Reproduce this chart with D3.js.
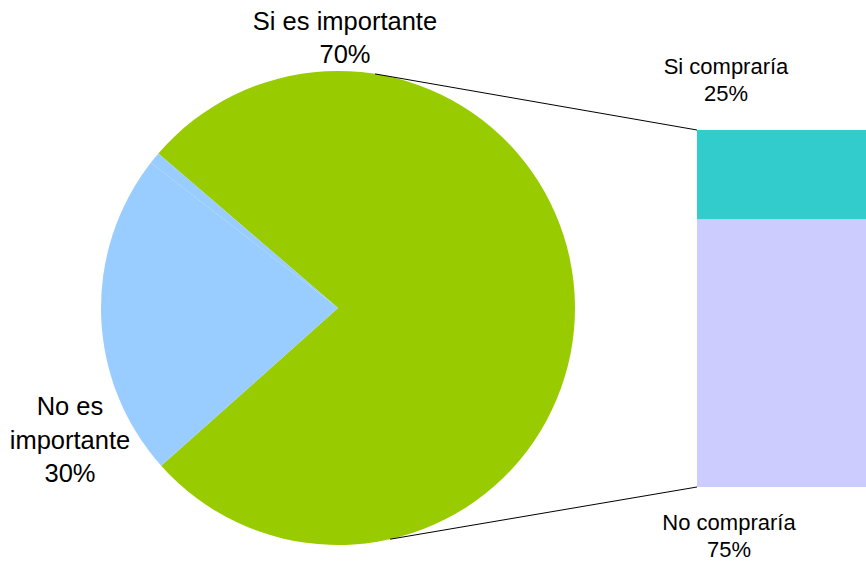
<!DOCTYPE html>
<html>
<head>
<meta charset="utf-8">
<script src="https://cdn.jsdelivr.net/npm/d3@7"></script>
<style>
  body { margin: 0; background: #fff; }
  svg { display: block; }
  text { font-family: "Liberation Sans", Arial, sans-serif; fill: #000; }
</style>
</head>
<body>
<svg id="chart" width="866" height="561"></svg>
<script>
// pie slices, in drawing order (clockwise from the upper-left edge of the green slice)
var pieNames = ["Si es importante", "No es importante", "No es importante (resto)"];
var pieShares = [77.1, 22.1, 0.8];          // angular share as drawn
var pieColors = ["#99CC00", "#99CCFF", "#99CCFF"];
var pieLabelLines = [["Si es importante", "70%"], ["No es", "importante", "30%"]];

// bar of the pie, stacked from the bottom
var barNames = ["No compraría", "Si compraría"];
var barValues = [75, 25];
var barColors = ["#CCCCFF", "#33CCCC"];
var barLabelLines = [["No compraría", "75%"], ["Si compraría", "25%"]];

var svg = d3.select("#chart");
var cx = 338, cy = 308, r = 237;
var deg = Math.PI / 180;

var start = -49.3 * deg;
var pie = d3.pie().sort(null).value(function (d) { return d })
    .startAngle(start).endAngle(start + 2 * Math.PI);
var arc = d3.arc().innerRadius(0).outerRadius(r);

var g = svg.append("g").attr("transform", "translate(" + cx + "," + cy + ")");
g.selectAll("path.slice")
    .data(pie(pieShares))
    .enter()
    .append("path")
    .attr("class", "slice")
    .attr("d", arc)
    .style("fill", function (d, i) { return pieColors[i] });

// bar
var y = d3.scaleLinear().domain([0, 100]).range([487, 130]);
var barX = 697, barW = 190;
var cum = 0;
var stacked = barValues.map(function (v) { var s = { y0: cum, y1: cum + v }; cum += v; return s });

svg.selectAll("rect.bar")
    .data(stacked)
    .enter()
    .append("rect")
    .attr("class", "bar")
    .attr("x", barX)
    .attr("width", barW)
    .attr("y", function (d) { return y(d.y1) })
    .attr("height", function (d) { return y(d.y0) - y(d.y1) })
    .style("fill", function (d, i) { return barColors[i] });

// connector lines from the pie to the bar
function piePoint(a) { return [cx + r * Math.sin(a), cy - r * Math.cos(a)] }
var p1 = piePoint(9 * deg), p2 = piePoint(167.3 * deg);
svg.append("line").attr("x1", p1[0]).attr("y1", p1[1]).attr("x2", barX).attr("y2", y(100))
    .style("stroke", "#000").style("stroke-width", 1);
svg.append("line").attr("x1", p2[0]).attr("y1", p2[1]).attr("x2", barX).attr("y2", y(0))
    .style("stroke", "#000").style("stroke-width", 1);

// labels
function label(lines, x, y0, step, size) {
    var t = svg.append("text")
        .attr("text-anchor", "middle")
        .style("font-size", size + "px");
    lines.forEach(function (s, i) {
        t.append("tspan").attr("x", x).attr("y", y0 + i * step).text(s);
    });
}
label(pieLabelLines[0], 345, 30, 32.5, 25.5);
label(pieLabelLines[1], 70, 415, 33.5, 25.5);
label(barLabelLines[1], 726, 74, 27, 22);
label(barLabelLines[0], 729, 530, 26.5, 22);
</script>
</body>
</html>
